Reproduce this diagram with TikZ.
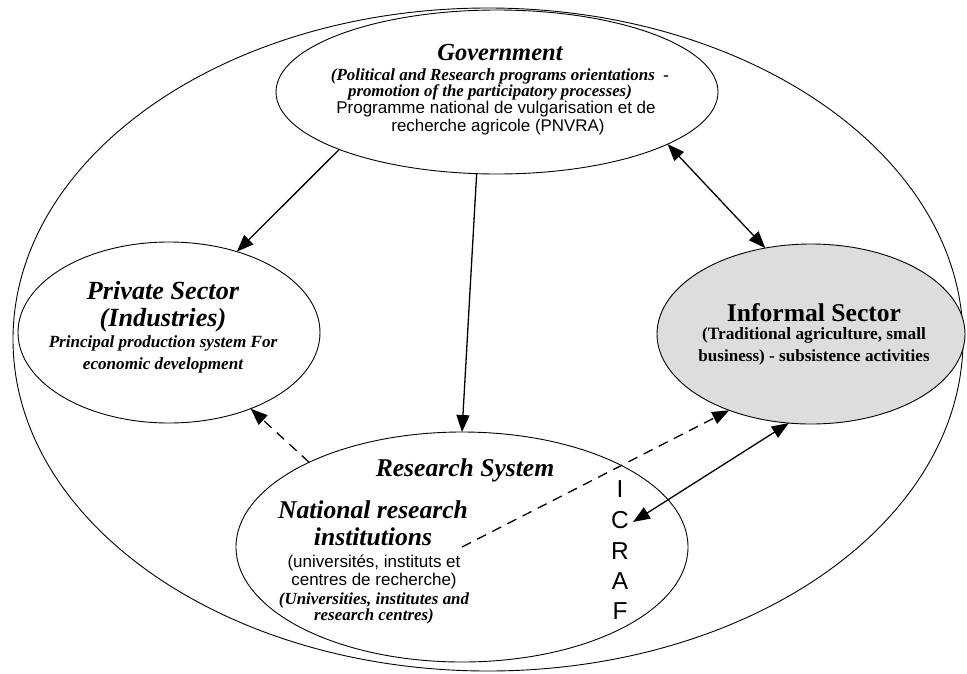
\documentclass[tikz,border=0pt]{standalone}
\usepackage{fontspec}
\setmainfont{Liberation Serif}
\newfontfamily\arialf{Liberation Sans}
\usetikzlibrary{arrows.meta,shapes.geometric}
\definecolor{infill}{RGB}{221,221,221}
\tikzset{
 oval/.style={draw,ellipse,line width=0.9pt,inner sep=0pt,outer sep=0pt},
 conn/.style={line width=1.3pt,-{Triangle[length=17pt,width=13pt]}},
 biconn/.style={line width=1.3pt,{Triangle[length=17pt,width=13pt]}-{Triangle[length=17pt,width=13pt]}},
 dconn/.style={conn,dash pattern=on 10pt off 7pt},
 lab/.style={anchor=base,inner sep=0pt,outer sep=0pt},
 bi/.style={lab,font=\fontsize{#1}{#1}\selectfont\bfseries\itshape},
 bfu/.style={lab,font=\fontsize{#1}{#1}\selectfont\bfseries},
 sans/.style={lab,font=\fontsize{#1}{#1}\selectfont\arialf},
}
\begin{document}
\begin{tikzpicture}[x=1pt,y=-1pt]
\useasboundingbox[fill=white] (0,0) rectangle (967,673);
% ellipses
\node[oval,minimum width=950pt,minimum height=663pt] (outer) at (488,339.5) {};
\node[oval,minimum width=442pt,minimum height=164pt] (gov) at (497,92) {};
\node[oval,minimum width=302pt,minimum height=181pt] (priv) at (169,332.5) {};
\node[oval,fill=infill,minimum width=308pt,minimum height=180pt] (inf) at (811,334) {};
\node[oval,minimum width=452pt,minimum height=230pt] (res) at (462,547) {};
% government text
\node[bi=24.5] (g1) at (500,60) {Government};
\node[bi=17] (g2) at (500,80) {(Political and Research programs orientations \ -};
\node[bi=16.8] (g3) at (490,96) {promotion of the participatory processes)};
\node[sans=17] (g4) at (496,113) {Programme national de vulgarisation et de};
\node[sans=16.9] (g5) at (498,131) {recherche agricole (PNVRA)};
% private sector text
\node[bi=26.2] (p1) at (163,299) {Private Sector};
\node[bi=26.2] (p2) at (163,326) {(Industries)};
\node[bi=17.1] (p3) at (163,347) {Principal production system For};
\node[bi=17.1] (p4) at (163,369) {economic development};
% informal sector text
\node[bfu=25.6] (i1) at (814,321) {Informal Sector};
\node[bfu=17.3] (i2) at (814,339) {(Traditional agriculture, small};
\node[bfu=17.1] (i3) at (814,361) {business) - subsistence activities};
% research text
\node[bi=25.6] (r1) at (465,476) {Research System};
\node[bi=25.6] (r2) at (373,518) {National research};
\node[bi=25.6] (r3) at (373,545) {institutions};
\node[sans=17] (r4) at (374,567) {(universités, instituts et};
\node[sans=17] (r5) at (374,585) {centres de recherche)};
\node[bi=16.9] (r6) at (374,604) {(Universities, institutes and};
\node[bi=16.9] (r7) at (374,620) {research centres)};
% ICRAF
\node[sans=24.5] (c1) at (620,497) {I};
\node[sans=24.5] (c2) at (620,528) {C};
\node[sans=24.5] (c3) at (620,559) {R};
\node[sans=24.5] (c4) at (620,589) {A};
\node[sans=24.5] (c5) at (620,619) {F};
\coordinate (icraf) at (633,522);
% connectors
\draw[conn] (gov.200) -- (priv.50);
\draw[conn] (gov.256) -- (res.90);
\draw[biconn] (gov.-17) -- (inf.118);
\draw[dconn] (res.151) -- (priv.-43);
\draw[dconn] (res.center) -- (inf.223);
\draw[biconn] (icraf) -- (inf.256);
\end{tikzpicture}
\end{document}
